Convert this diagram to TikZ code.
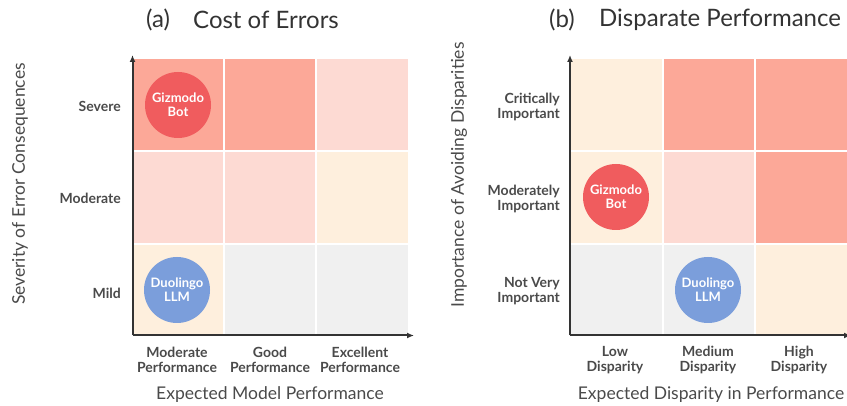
\documentclass[tikz,border=0pt]{standalone}
\usepackage{fontspec}
\setmainfont{Lato}
\begin{document}
\begin{tikzpicture}[x=1pt,y=-1pt,
  lab/.style={font=\bfseries\fontsize{14}{15.5}\selectfont,text=txt,align=right,anchor=east,inner sep=0pt},
  xlab/.style={font=\bfseries\fontsize{14}{15.5}\selectfont,text=txt,align=center,inner sep=0pt},
  ttl/.style={font=\fontsize{17.5}{20}\selectfont,text=txt,inner sep=0pt},
  head/.style={font=\fontsize{24}{28}\selectfont,text=ttlc,inner sep=0pt},
  bub/.style={circle,minimum size=66pt,inner sep=0pt,text=white,align=center,font=\bfseries\fontsize{13}{14}\selectfont},
  ax/.style={line width=2pt,draw=axc,-{Latex[length=7pt,width=6pt]}}
]
\usetikzlibrary{arrows.meta}
\definecolor{cStrong}{HTML}{FCA898}
\definecolor{cLight}{HTML}{FDDAD3}
\definecolor{cCream}{HTML}{FEEFDD}
\definecolor{cGray}{HTML}{F0F0F0}
\definecolor{cRed}{HTML}{F05C5E}
\definecolor{cBlue}{HTML}{7B9EDB}
\definecolor{txt}{HTML}{4A4A4A}
\definecolor{ttlc}{HTML}{333333}
\definecolor{axc}{HTML}{333333}
\useasboundingbox (0,0) rectangle (847,406);
% ---------- panel (a) ----------
\fill[cStrong] (133,59) rectangle (223,150);
\fill[cStrong] (225,59) rectangle (315,150);
\fill[cLight] (317,59) rectangle (408,150);
\fill[cLight] (133,152) rectangle (223,243);
\fill[cLight] (225,152) rectangle (315,243);
\fill[cCream] (317,152) rectangle (408,243);
\fill[cCream] (133,245) rectangle (223,335);
\fill[cGray] (225,245) rectangle (315,335);
\fill[cGray] (317,245) rectangle (408,335);
\coordinate (aO) at (132.5,335.5);
\coordinate (aY) at (132.5,55);
\coordinate (aX) at (414,335.5);
\draw[ax] (aO) -- (aY);
\draw[ax] (aO) -- (aX);
\node[bub,fill=cRed] (ag) at (178,105) {Gizmodo\\Bot};
\node[bub,fill=cBlue] (ad) at (177,290) {Duolingo\\LLM};
\node[lab] (ay1) at (121,106) {Severe};
\node[lab] (ay2) at (121,198) {Moderate};
\node[lab] (ay3) at (121,293) {Mild};
\node[xlab] (ax1) at (177,360) {Moderate\\Performance};
\node[xlab] (ax2) at (270,360) {Good\\Performance};
\node[xlab] (ax3) at (360,360) {Excellent\\Performance};
\node[ttl] (axt) at (270,395) {Expected Model Performance};
\node[ttl,rotate=90] (ayt) at (20,184) {Severity of Error Consequences};
\node[head,anchor=west] (ah1) at (146,20) {(a)};
\node[head,anchor=west] (ah2) at (193,20) {Cost of Errors};
% ---------- panel (b) ----------
\fill[cCream] (571,59) rectangle (662,150);
\fill[cStrong] (664,59) rectangle (754,150);
\fill[cStrong] (756,59) rectangle (847,150);
\fill[cCream] (571,152) rectangle (662,243);
\fill[cLight] (664,152) rectangle (754,243);
\fill[cStrong] (756,152) rectangle (847,243);
\fill[cGray] (571,245) rectangle (662,335);
\fill[cGray] (664,245) rectangle (754,335);
\fill[cCream] (756,245) rectangle (847,335);
\coordinate (bO) at (570,335.5);
\coordinate (bY) at (570,55);
\coordinate (bX) at (851,335.5);
\draw[ax] (bO) -- (bY);
\draw[ax] (bO) -- (bX);
\node[bub,fill=cRed] (bg) at (616,197) {Gizmodo\\Bot};
\node[bub,fill=cBlue] (bd) at (708,290) {Duolingo\\LLM};
\node[lab] (by1) at (560,107) {Critically\\Important};
\node[lab] (by2) at (560,199) {Moderately\\Important};
\node[lab] (by3) at (560,291) {Not Very\\Important};
\node[xlab] (bx1) at (615,360) {Low\\Disparity};
\node[xlab] (bx2) at (708,360) {Medium\\Disparity};
\node[xlab] (bx3) at (799,360) {High\\Disparity};
\node[ttl] (bxt) at (711,395) {Expected Disparity in Performance};
\node[ttl,rotate=90] (byt) at (459,175) {Importance of Avoiding Disparities};
\node[head,anchor=west] (bh1) at (549,20) {(b)};
\node[head,anchor=west] (bh2) at (599,20) {Disparate Performance};
\end{tikzpicture}
\end{document}
